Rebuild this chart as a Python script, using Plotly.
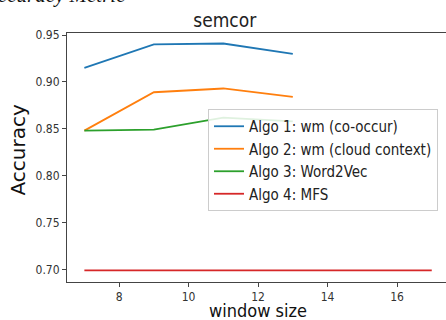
import plotly.graph_objects as go

window_sizes = [7, 9, 11, 13]
algo1_wm_cooccur = [0.915, 0.940, 0.941, 0.930]
algo2_wm_cloud = [0.848, 0.889, 0.893, 0.884]
algo3_word2vec = [0.848, 0.849, 0.862, 0.858]
mfs_window_sizes = [7, 9, 11, 13, 15, 17]
algo4_mfs = [0.699, 0.699, 0.699, 0.699, 0.699, 0.699]

series_names = ["Algo 1: wm (co-occur)", "Algo 2: wm (cloud context)",
                "Algo 3: Word2Vec", "Algo 4: MFS"]
colors = ["#1f77b4", "#ff7f0e", "#2ca02c", "#d62728"]
x_ticks = [8, 10, 12, 14, 16]
y_ticks = [0.70, 0.75, 0.80, 0.85, 0.90, 0.95]

COND = "DejaVu Sans Condensed, DejaVu Sans, sans-serif"
NORM = "DejaVu Sans, sans-serif"

fig = go.Figure()
for xs, ys, name, c in [
    (window_sizes, algo1_wm_cooccur, series_names[0], colors[0]),
    (window_sizes, algo2_wm_cloud, series_names[1], colors[1]),
    (window_sizes, algo3_word2vec, series_names[2], colors[2]),
    (mfs_window_sizes, algo4_mfs, series_names[3], colors[3]),
]:
    fig.add_trace(go.Scatter(x=xs, y=ys, mode="lines", name=name,
                             line=dict(color=c, width=1.8)))

W, H = 446, 320
L, R, T, B = 67, 0, 33, 38
pw, ph = W - L - R, H - T - B

def px_x(p):
    return (p - L) / pw

def px_y(p):
    return (H - B - p) / ph

fig.update_layout(
    width=W, height=H,
    margin=dict(l=L, r=R, t=T, b=B),
    paper_bgcolor="white", plot_bgcolor="white",
    showlegend=True,
    title=dict(text="semcor", x=px_x(258), xanchor="center",
               yref="container", y=1 - 20 / H, yanchor="middle",
               font=dict(family=COND, size=19, color="#222")),
    legend=dict(x=px_x(208), y=px_y(109), xanchor="left", yanchor="top",
                bgcolor="rgba(255,255,255,0.85)", bordercolor="#cccccc",
                borderwidth=1, font=dict(family=COND, size=15, color="#222")),
    xaxis=dict(range=[6.5, 17.41], tickvals=x_ticks, ticktext=[str(v) for v in x_ticks],
               showgrid=False, zeroline=False, showline=True, linecolor="#444",
               linewidth=1, mirror=True, ticks="outside", ticklen=4,
               tickcolor="#444", tickfont=dict(family=COND, size=12, color="#333")),
    yaxis=dict(range=[0.6865, 0.9522], tickvals=y_ticks,
               ticktext=[f"{v:.2f}" for v in y_ticks],
               showgrid=False, zeroline=False, showline=True, linecolor="#444",
               linewidth=1, mirror=False, ticks="outside", ticklen=4,
               tickcolor="#444", tickfont=dict(family=COND, size=12, color="#333")),
    annotations=[
        dict(text="window size", xref="paper", yref="paper", x=px_x(258), y=px_y(310),
             xanchor="center", yanchor="middle", showarrow=False,
             font=dict(family=COND, size=18, color="#111")),
        dict(text="Accuracy", xref="paper", yref="paper", x=px_x(17.5), y=px_y(150),
             xanchor="center", yanchor="middle", showarrow=False, textangle=-90,
             font=dict(family=NORM, size=20, color="#111")),
        dict(text="<i>Accuracy Metric</i>", xref="paper", yref="paper",
             x=px_x(128), y=px_y(9), xanchor="right", yanchor="bottom",
             showarrow=False, font=dict(family="Liberation Serif", size=21, color="#111")),
    ],
)

fig.write_html("out.html",
               config={"displayModeBar": False},
               post_script="document.body.style.margin='0';document.body.style.overflow='hidden';")
